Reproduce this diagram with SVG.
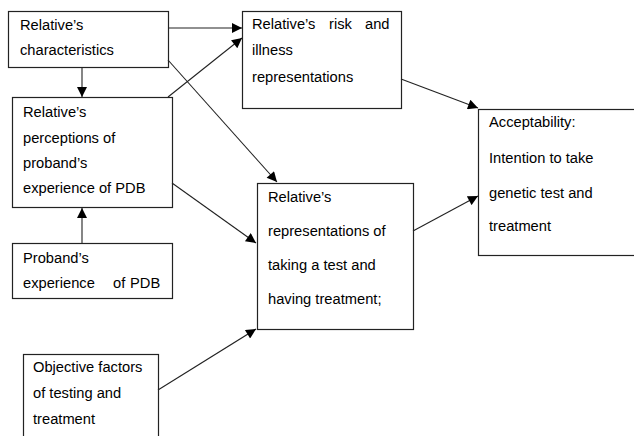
<svg xmlns="http://www.w3.org/2000/svg" width="634" height="436" viewBox="0 0 634 436">
<style>
.box{fill:#fff;stroke:#222;stroke-width:1.2}
.t{font-family:"Liberation Sans",Arial,sans-serif;font-size:14.7px;fill:#000}
.c{stroke:#222;stroke-width:1.1;fill:none;marker-end:url(#ah)}
</style>
<defs>
<marker id="ah" viewBox="0 0 10 10" refX="10" refY="5" markerUnits="userSpaceOnUse" markerWidth="12" markerHeight="10" orient="auto">
<path d="M0,0 L10,5 L0,10 z" fill="#000"/>
</marker>
</defs>
<rect width="634" height="436" fill="#fff"/>
<g id="n1"><rect class="box" x="8.5" y="11.5" width="160" height="56"/>
<text class="t" x="20" y="30">Relative’s</text><text class="t" x="20" y="55">characteristics</text></g>
<g id="n2"><rect class="box" x="12.5" y="97.5" width="160" height="110"/>
<text class="t" x="23" y="117">Relative’s</text><text class="t" x="23" y="143">perceptions of</text><text class="t" x="23" y="168">proband’s</text><text class="t" x="23" y="193">experience of PDB</text></g>
<g id="n3"><rect class="box" x="12.5" y="243.5" width="160" height="55"/>
<text class="t" x="23" y="263">Proband’s</text><text class="t" y="288"><tspan x="23">experience</tspan><tspan x="113">of</tspan><tspan x="130">PDB</tspan></text></g>
<g id="n4"><rect class="box" x="23.5" y="354.5" width="135" height="100"/>
<text class="t" x="33" y="372">Objective factors</text><text class="t" x="33" y="398">of testing and</text><text class="t" x="33" y="424">treatment</text></g>
<g id="n5"><rect class="box" x="242.5" y="11.5" width="159" height="97"/>
<text class="t" y="29"><tspan x="252">Relative’s</tspan><tspan x="329">risk</tspan><tspan x="365">and</tspan></text><text class="t" x="252" y="55">illness</text><text class="t" x="252" y="82">representations</text></g>
<g id="n6"><rect class="box" x="257.5" y="183.5" width="156" height="146"/>
<text class="t" x="268" y="202">Relative’s</text><text class="t" x="268" y="236">representations of</text><text class="t" x="268" y="270">taking a test and</text><text class="t" x="268" y="304">having treatment;</text></g>
<g id="n7"><rect class="box" x="478.5" y="109.5" width="170" height="146"/>
<text class="t" x="489" y="127">Acceptability:</text><text class="t" x="489" y="163">Intention to take</text><text class="t" x="489" y="198">genetic test and</text><text class="t" x="489" y="231">treatment</text></g>
<g id="connectors">
<line class="c" x1="82" y1="68" x2="82" y2="97"/>
<line class="c" x1="82" y1="243" x2="82" y2="208"/>
<line class="c" x1="168" y1="28" x2="242" y2="28"/>
<line class="c" x1="168" y1="97" x2="242" y2="38"/>
<line class="c" x1="168" y1="60" x2="277" y2="182"/>
<line class="c" x1="172" y1="183" x2="256" y2="243"/>
<line class="c" x1="158" y1="390" x2="256" y2="329"/>
<line class="c" x1="401" y1="79" x2="478" y2="108"/>
<line class="c" x1="413" y1="231" x2="478" y2="196"/>
</g>
</svg>
